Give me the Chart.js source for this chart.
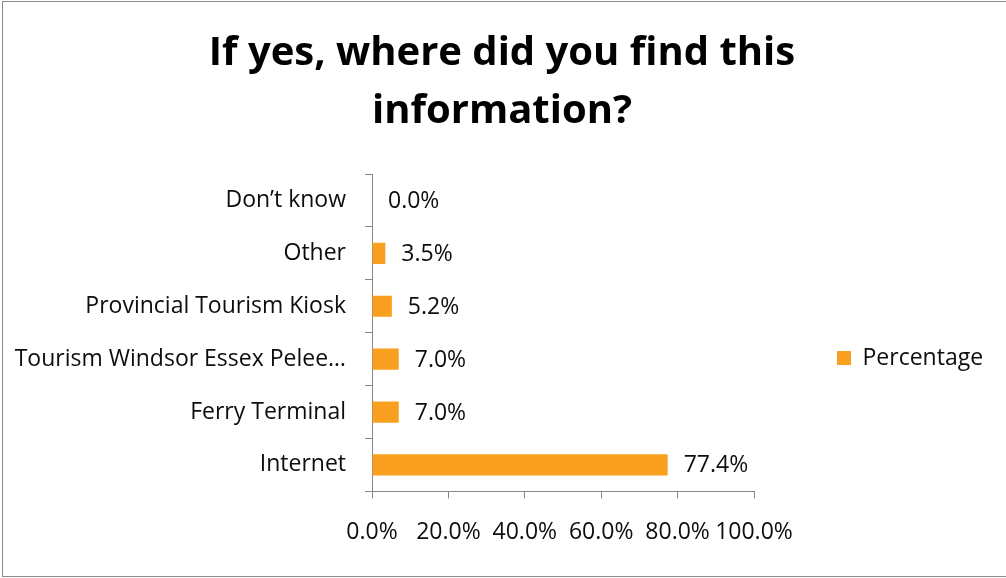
<!DOCTYPE html>
<html>
<head>
<meta charset="utf-8">
<script src="https://cdn.jsdelivr.net/npm/chart.js@4/dist/chart.umd.min.js"></script>
<style>
	html, body { margin: 0; padding: 0; background: #fff; }
	#wrap { position: relative; width: 1006px; height: 578px; overflow: hidden; }
	#frame {
		position: absolute; left: 2px; top: 1px; width: 1020px; height: 576px;
		box-sizing: border-box; border: 1px solid #8c8c8c; pointer-events: none;
	}
</style>
</head>
<body>
<div id="wrap">
	<canvas id="chart" width="1006" height="578"></canvas>
	<div id="frame"></div>
</div>
<script>
(() => {
	'use strict'

	// Survey answers, listed top to bottom
	const categories = ['Don\u2019t know', 'Other', 'Provincial Tourism Kiosk', 'Tourism Windsor Essex Pelee\u2026', 'Ferry Terminal', 'Internet'];
	const percentages = [0.0, 3.5, 5.2, 7.0, 7.0, 77.4];
	const xTicks = [0, 20, 40, 60, 80, 100];

	const barColor = '#F9A021';
	const axisColor = '#868686';
	const textColor = '#0d0d0d';
	const labelSize = 23;

	Chart.defaults.font.family = "'Open Sans', sans-serif";
	Chart.defaults.color = textColor;

	// Writes the value next to the end of each bar
	const valueLabels = {
		id: 'valueLabels',
		afterDatasetsDraw(chart) {
			const ctx = chart.ctx;
			const meta = chart.getDatasetMeta(0);
			ctx.save();
			ctx.font = labelSize + "px 'Open Sans', sans-serif";
			ctx.fillStyle = textColor;
			ctx.textAlign = 'left';
			ctx.textBaseline = 'middle';
			meta.data.forEach((bar, i) => {
				ctx.fillText(percentages[i].toFixed(1) + '%', bar.x + 16, bar.y + 1);
			});
			ctx.restore();
		}
	};

	const chartEl = document.getElementById('chart');
	const configChart = {
		type: 'bar',
		data: {
			labels: categories,
			datasets: [{
				label: 'Percentage',
				data: percentages,
				backgroundColor: barColor,
				borderWidth: 0,
				categoryPercentage: 1,
				barPercentage: 0.4
			}]
		},
		options: {
			indexAxis: 'y',
			responsive: false,
			animation: false,
			devicePixelRatio: 1,
			layout: {
				padding: { top: 0, right: 12, bottom: 12, left: 10 }
			},
			plugins: {
				title: {
					display: true,
					text: ['If yes, where did you find this', 'information?'],
					color: '#000',
					font: { size: 40, weight: 'bold', lineHeight: 1.45 },
					padding: { top: 25, bottom: 33 }
				},
				legend: {
					position: 'right',
					// blank title pushes the single entry down level with the plot middle
					title: {
						display: true,
						text: ' ',
						font: { size: 23, lineHeight: 1 },
						padding: { top: 127, bottom: 0 }
					},
					labels: {
						boxWidth: 14,
						boxHeight: 14,
						padding: 83,
						color: textColor,
						font: { size: labelSize }
					}
				},
				tooltip: { enabled: false }
			},
			scales: {
				x: {
					min: 0,
					max: 100,
					afterBuildTicks(scale) {
						scale.ticks = xTicks.map(v => ({ value: v }));
					},
					afterFit(scale) {
						// keep the plot clear of the legend column
						scale.paddingRight = 252;
					},
					ticks: {
						padding: 20,
						color: textColor,
						font: { size: labelSize },
						autoSkip: false,
						maxRotation: 0,
						callback: v => v.toFixed(1) + '%'
					},
					grid: {
						drawOnChartArea: false,
						drawTicks: true,
						tickLength: 7,
						color: axisColor
					},
					border: { color: axisColor, width: 1 }
				},
				y: {
					afterFit(scale) {
						scale.width = 362;
					},
					ticks: {
						padding: 19,
						color: textColor,
						font: { size: labelSize }
					},
					grid: {
						drawOnChartArea: false,
						drawTicks: true,
						tickLength: 7,
						color: axisColor
					},
					border: { color: axisColor, width: 1 }
				}
			}
		},
		plugins: [valueLabels]
	};

	new Chart(chartEl, configChart);
})()
</script>
</body>
</html>
